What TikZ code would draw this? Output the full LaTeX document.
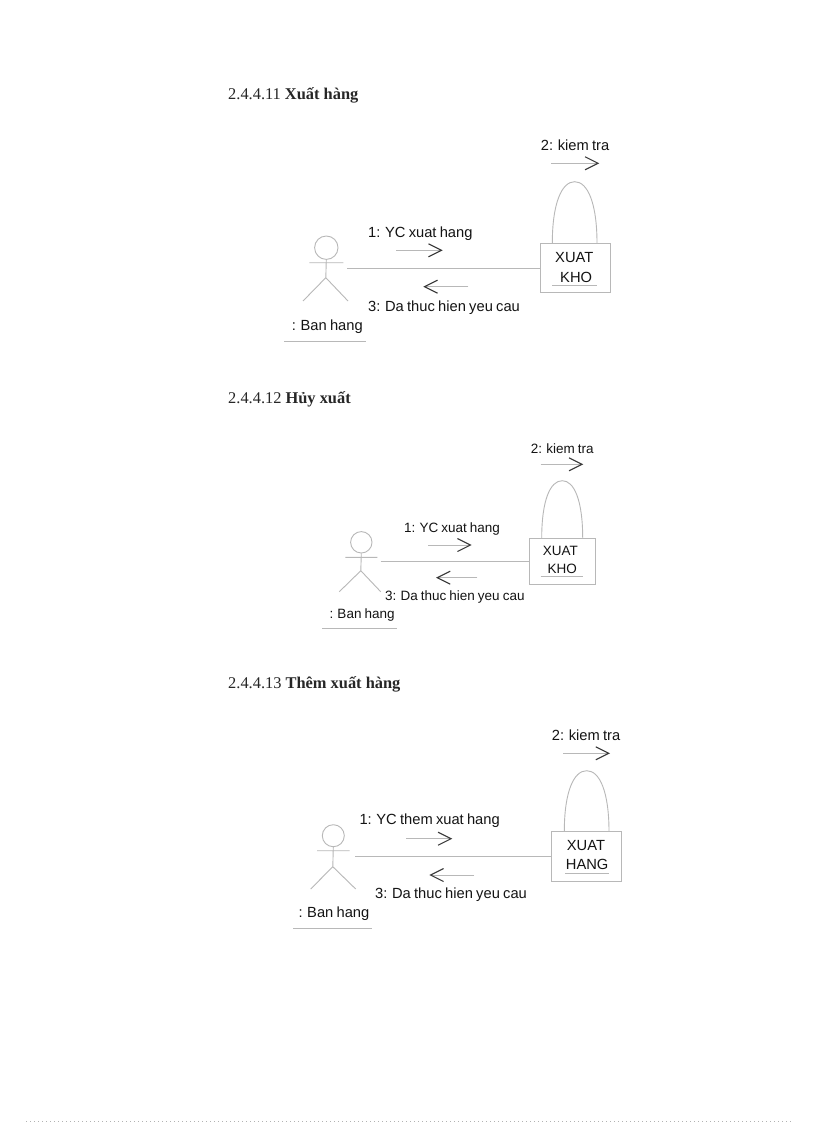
\documentclass[tikz,border=0pt]{standalone}
\usepackage{fontspec}
\setmainfont{Liberation Serif}
\setsansfont[WordSpace=0.8]{Liberation Sans}
\usetikzlibrary{arrows.meta}
\definecolor{lineg}{gray}{0.72}
\definecolor{tipg}{gray}{0.22}
\definecolor{txtg}{gray}{0.08}
\newcommand{\actor}[7]{% prefix, head x, head y, r, arm half, hip y, unused
  \node[headc,minimum size=#4*2pt] (#1head) at (#2,#3) {};
  \coordinate (#1hip) at (#2-0.5,#6);
  \coordinate (#1armL) at (#2-#5,#3+15);
  \coordinate (#1armR) at (#2+#5,#3+15);
}
\tikzset{
  x=1pt,y=-1pt,
  thin line/.style={draw=lineg,line width=0.9pt},
  headc/.style={circle,draw=lineg,line width=0.9pt,inner sep=0pt},
  boxn/.style={rectangle,draw=lineg,line width=1pt,inner sep=0pt},
  msg/.style={draw=lineg,line width=0.9pt,-{Straight Barb[length=13pt,width=13pt,color=tipg,line width=1.1pt]}},
  lab1/.style={anchor=base west,inner sep=0pt,text=txtg,font=\sffamily\fontsize{14.7}{15}\selectfont},
  lab2/.style={anchor=base west,inner sep=0pt,text=txtg,font=\sffamily\fontsize{13.5}{14}\selectfont},
  lab3/.style={anchor=base west,inner sep=0pt,text=txtg,font=\sffamily\fontsize{14.7}{15}\selectfont},
  heading/.style={anchor=base west,inner sep=0pt,text=black!85,font=\rmfamily\fontsize{16.4}{17}\selectfont},
}
\begin{document}
\begin{tikzpicture}
\useasboundingbox (0,0) rectangle (816,1123);
\fill[white] (0,0) rectangle (816,1123);
% headings
\node[heading] (h1) at (228,100) {2.4.4.11 \textbf{Xuất hàng}};
\node[heading] (h2) at (228,403) {2.4.4.12 \textbf{Hủy xuất}};
\node[heading] (h3) at (228,688) {2.4.4.13 \textbf{Thêm xuất hàng}};

% ---------- diagram 1
\actor{a}{326.3}{247.7}{11.7}{17}{277.7}{}
\node[boxn,minimum width=70pt,minimum height=49.4pt] (abox) at (575,268) {};
\coordinate (aS) at (347.3,268.3);
\coordinate (aLL) at (303,301); \coordinate (aLR) at (348,301);
\draw[thin line] (ahead.south) -- (ahip) (aarmL) -- (aarmR) (aLL) -- (ahip) -- (aLR);
\draw[thin line] (aS) -- (aS -| abox.west);
\coordinate (al) at (552.3,243.3); \coordinate (ar) at (597,243.3); \coordinate (at) at (574.7,181.7);
\draw[thin line] (al) .. controls +(0,-40) and +(-13,0) .. (at) .. controls +(13,0) and +(0,-40) .. (ar);
\coordinate (a1s) at (396,250.3); \coordinate (a1e) at (442.7,250.3);
\coordinate (a3s) at (468.3,286.7); \coordinate (a3e) at (423.3,286.7);
\coordinate (a2s) at (551,163.3); \coordinate (a2e) at (599.3,163.3);
\draw[msg] (a1s) -- (a1e); \draw[msg] (a3s) -- (a3e); \draw[msg] (a2s) -- (a2e);
\node[lab1] (al1) at (368,237) {1: YC xuat hang};
\node[lab1] (al3) at (368,311) {3: Da thuc hien yeu cau};
\node[lab1] (al2) at (540.7,151) {2: kiem tra};
\node[lab1] (alb) at (291.7,330) {: Ban hang};
\node[lab1] (ax1) at (555,262) {XUAT};
\node[lab1] (ax2) at (560,282) {KHO};
\coordinate (au1) at (284.3,341.7); \coordinate (au2) at (365.7,341.7);
\coordinate (au3) at (552,285.3); \coordinate (au4) at (596.7,285.3);
\draw[thin line] (au1) -- (au2) (au3) -- (au4);

% ---------- diagram 2
\actor{b}{361.3}{542.3}{10.7}{16}{570.7}{}
\node[boxn,minimum width=66pt,minimum height=45.7pt] (bbox) at (562.3,561.2) {};
\coordinate (bS) at (380.7,561.3);
\coordinate (bLL) at (339.3,591.7); \coordinate (bLR) at (380.7,591.7);
\draw[thin line] (bhead.south) -- (bhip) (barmL) -- (barmR) (bLL) -- (bhip) -- (bLR);
\draw[thin line] (bS) -- (bS -| bbox.west);
\coordinate (bl) at (541.7,538.3); \coordinate (br) at (582.7,538.3); \coordinate (bt) at (562.2,480.7);
\draw[thin line] (bl) .. controls +(0,-38) and +(-12,0) .. (bt) .. controls +(12,0) and +(0,-38) .. (br);
\coordinate (b1s) at (428.3,545); \coordinate (b1e) at (471.7,545);
\coordinate (b3s) at (477.3,577.7); \coordinate (b3e) at (436,577.7);
\coordinate (b2s) at (540.7,464.3); \coordinate (b2e) at (583.3,464.3);
\draw[msg] (b1s) -- (b1e); \draw[msg] (b3s) -- (b3e); \draw[msg] (b2s) -- (b2e);
\node[lab2] (bl1) at (404,532) {1: YC xuat hang};
\node[lab2] (bl3) at (385,600.5) {3: Da thuc hien yeu cau};
\node[lab2] (bl2) at (530.7,453) {2: kiem tra};
\node[lab2] (blb) at (329.3,618) {: Ban hang};
\node[lab2] (bx1) at (542.7,555.5) {XUAT};
\node[lab2] (bx2) at (547.3,573.5) {KHO};
\coordinate (bu1) at (322.3,628.7); \coordinate (bu2) at (397.3,628.7);
\coordinate (bu3) at (540.7,576.7); \coordinate (bu4) at (582.7,576.7);
\draw[thin line] (bu1) -- (bu2) (bu3) -- (bu4);

% ---------- diagram 3
\actor{c}{333.3}{835.7}{11}{16.3}{866.7}{}
\node[boxn,minimum width=69.3pt,minimum height=50pt] (cbox) at (586.4,856.7) {};
\coordinate (cS) at (355,856.7);
\coordinate (cLL) at (310.7,889); \coordinate (cLR) at (355.7,889);
\draw[thin line] (chead.south) -- (chip) (carmL) -- (carmR) (cLL) -- (chip) -- (cLR);
\draw[thin line] (cS) -- (cS -| cbox.west);
\coordinate (cl) at (564.3,831.7); \coordinate (cr) at (609,831.7); \coordinate (ct) at (586.7,770.7);
\draw[thin line] (cl) .. controls +(0,-40) and +(-13,0) .. (ct) .. controls +(13,0) and +(0,-40) .. (cr);
\coordinate (c1s) at (406,838.7); \coordinate (c1e) at (452.3,838.7);
\coordinate (c3s) at (474,875); \coordinate (c3e) at (429.3,875);
\coordinate (c2s) at (563.3,753.3); \coordinate (c2e) at (610,753.3);
\draw[msg] (c1s) -- (c1e); \draw[msg] (c3s) -- (c3e); \draw[msg] (c2s) -- (c2e);
\node[lab3] (cl1) at (359.3,824) {1: YC them xuat hang};
\node[lab3] (cl3) at (375,898) {3: Da thuc hien yeu cau};
\node[lab3] (cl2) at (551.7,740) {2: kiem tra};
\node[lab3] (clb) at (298.3,917.5) {: Ban hang};
\node[lab3] (cx1) at (566.7,850.5) {XUAT};
\node[lab3] (cx2) at (565.7,869.5) {HANG};
\coordinate (cu1) at (293.3,928.7); \coordinate (cu2) at (372.3,928.7);
\coordinate (cu3) at (565,873.7); \coordinate (cu4) at (609.3,873.7);
\draw[thin line] (cu1) -- (cu2) (cu3) -- (cu4);

% bottom page rule
\coordinate (pl) at (26,1121); \coordinate (pr) at (791,1121);
\draw[gray!60,line width=0.6pt,dash pattern=on 1pt off 3pt] (pl) -- (pr);
\end{tikzpicture}
\end{document}
